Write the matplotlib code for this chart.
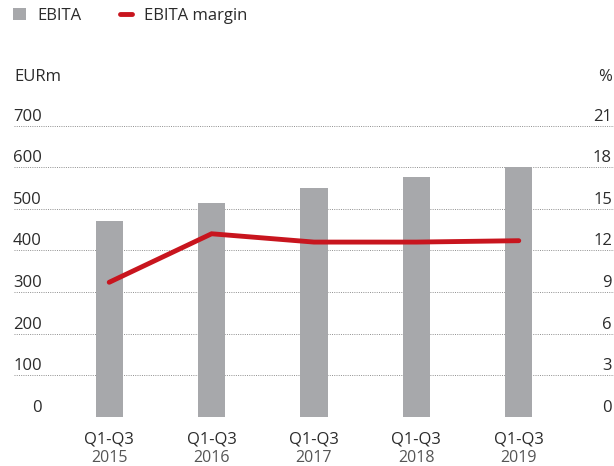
import matplotlib.pyplot as plt
from matplotlib.lines import Line2D
from matplotlib.patches import Patch

# Data
periods = ["Q1-Q3", "Q1-Q3", "Q1-Q3", "Q1-Q3", "Q1-Q3"]
years = ["2015", "2016", "2017", "2018", "2019"]
ebita = [470, 514, 549, 576, 600]
ebita_margin = [9.7, 13.2, 12.6, 12.6, 12.7]
left_ticks = [0, 100, 200, 300, 400, 500, 600, 700]
right_ticks = [0, 3, 6, 9, 12, 15, 18, 21]

BAR_COLOR = "#a7a8ab"
LINE_COLOR = "#c8151e"
TEXT_COLOR = "#2b2b2b"
YEAR_COLOR = "#555555"
FS = 12

plt.rcParams["font.family"] = ["Open Sans", "DejaVu Sans"]

fig = plt.figure(figsize=(6.14, 4.66), dpi=100)
ax = fig.add_axes([0.0228, 0.1058, 0.9772, 0.6245])
ax2 = ax.twinx()

x = list(range(len(ebita)))
ax.set_xlim(-0.93, 4.93)
ax.set_ylim(0, 700)
ax2.set_ylim(0, 21)

# gridlines
for v in left_ticks:
    ax.axhline(v, color="#8f8f8f", lw=0.7, ls=(0, (1, 1.3)), zorder=1)

ax.bar(x, ebita, width=0.264, color=BAR_COLOR, zorder=2)
ax2.plot(x, ebita_margin, color=LINE_COLOR, lw=3.5, solid_capstyle="round",
         solid_joinstyle="miter", zorder=3)

for a in (ax, ax2):
    a.set_xticks([])
    a.set_yticks([])
    for s in a.spines.values():
        s.set_visible(False)

# tick labels above gridlines
for v in left_ticks:
    ax.annotate(str(v), xy=(0, v), xycoords=("axes fraction", "data"),
                xytext=(42 - 14, 5), textcoords="offset pixels",
                ha="right", va="baseline", fontsize=FS, color=TEXT_COLOR)
for v in right_ticks:
    ax2.annotate(str(v), xy=(1, v), xycoords=("axes fraction", "data"),
                 xytext=(-2, 5), textcoords="offset pixels",
                 ha="right", va="baseline", fontsize=FS, color=TEXT_COLOR)

# category labels
for i, (p, y) in enumerate(zip(periods, years)):
    ax.annotate(p, xy=(i, 0), xycoords="data", xytext=(0, -23),
                textcoords="offset pixels", ha="center", va="center",
                fontsize=FS, color=TEXT_COLOR)
    ax.annotate(y, xy=(i, 0), xycoords="data", xytext=(0, -41),
                textcoords="offset pixels", ha="center", va="center",
                fontsize=11.5, color=YEAR_COLOR)

fig.text(14 / 614, 1 - 77 / 466, "EURm", ha="left", va="center",
         fontsize=FS, color=TEXT_COLOR)
fig.text(612 / 614, 1 - 77 / 466, "%", ha="right", va="center",
         fontsize=FS, color=TEXT_COLOR)

handles = [
    Patch(facecolor=BAR_COLOR, edgecolor="none"),
    Line2D([0], [0], color=LINE_COLOR, lw=3.5, solid_capstyle="round"),
]
fig.legend(handles, ["EBITA", "EBITA margin"], loc="upper left",
           bbox_to_anchor=(-0.003, 1.015), ncol=2, frameon=False,
           fontsize=FS, handlelength=0.75, handleheight=0.75,
           columnspacing=2.3, handletextpad=0.7, labelcolor=TEXT_COLOR)

fig.savefig("out.png", dpi=100)
